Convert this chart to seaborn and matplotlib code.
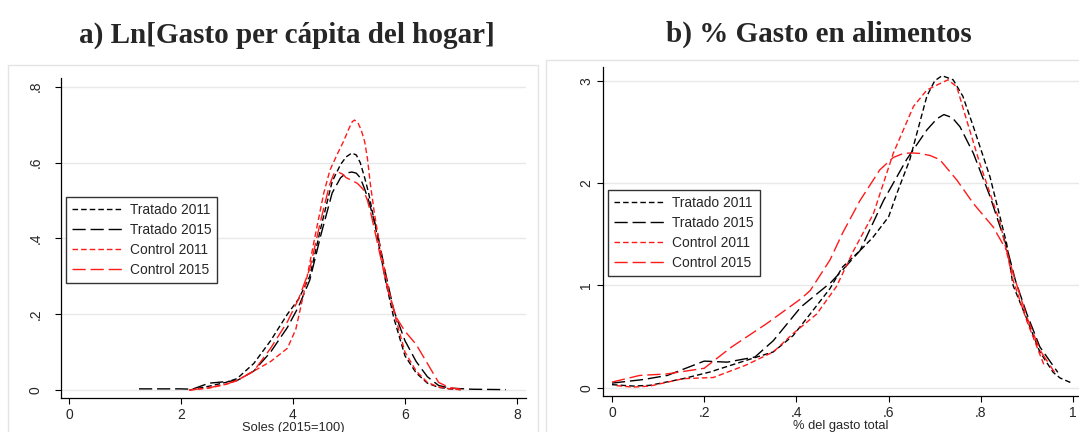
import matplotlib
matplotlib.use("Agg")
import matplotlib.pyplot as plt
from matplotlib.patches import Rectangle
import seaborn as sns
import pandas as pd

# ---------------- data ----------------
labels = ["Tratado 2011", "Tratado 2015", "Control 2011", "Control 2015"]

# Panel a) Ln[Gasto per capita del hogar]
a_t11_x = [2.15, 2.5, 2.8, 3.0, 3.3, 3.6, 3.9, 4.1, 4.3, 4.5, 4.7, 4.85, 4.95, 5.05, 5.13, 5.2, 5.28, 5.35, 5.5, 5.65, 5.8, 6.0, 6.2, 6.4, 6.6, 6.8, 7.0]
a_t11_y = [0.0, 0.01, 0.02, 0.03, 0.07, 0.13, 0.20, 0.24, 0.30, 0.43, 0.55, 0.595, 0.615, 0.625, 0.62, 0.60, 0.56, 0.52, 0.41, 0.29, 0.19, 0.09, 0.045, 0.018, 0.007, 0.003, 0.001]

a_t15_x = [1.25, 2.0, 2.2, 2.5, 2.8, 3.0, 3.3, 3.6, 3.9, 4.1, 4.3, 4.5, 4.7, 4.85, 4.95, 5.05, 5.13, 5.2, 5.28, 5.35, 5.5, 5.65, 5.8, 6.0, 6.2, 6.4, 6.6, 6.8, 7.2, 7.8]
a_t15_y = [0.003, 0.003, 0.002, 0.018, 0.022, 0.025, 0.05, 0.10, 0.165, 0.22, 0.29, 0.41, 0.52, 0.56, 0.572, 0.575, 0.572, 0.56, 0.53, 0.50, 0.42, 0.31, 0.21, 0.13, 0.075, 0.035, 0.012, 0.005, 0.002, 0.001]

a_c11_x = [2.15, 2.5, 2.8, 3.0, 3.3, 3.6, 3.9, 4.05, 4.2, 4.4, 4.55, 4.66, 4.8, 4.9, 5.0, 5.06, 5.1, 5.16, 5.22, 5.28, 5.33, 5.38, 5.45, 5.55, 5.7, 5.85, 6.0, 6.2, 6.4, 6.6, 6.8, 7.0]
a_c11_y = [0.0, 0.005, 0.015, 0.025, 0.05, 0.075, 0.11, 0.16, 0.26, 0.41, 0.52, 0.58, 0.625, 0.655, 0.69, 0.708, 0.712, 0.705, 0.685, 0.655, 0.61, 0.545, 0.47, 0.38, 0.27, 0.18, 0.10, 0.05, 0.02, 0.008, 0.003, 0.001]

a_c15_x = [2.15, 2.5, 2.8, 3.0, 3.3, 3.6, 3.9, 4.1, 4.3, 4.5, 4.65, 4.73, 4.8, 4.88, 4.95, 5.05, 5.15, 5.25, 5.33, 5.4, 5.55, 5.7, 5.85, 6.0, 6.2, 6.4, 6.6, 6.8, 7.0]
a_c15_y = [0.0, 0.006, 0.015, 0.025, 0.05, 0.11, 0.18, 0.24, 0.32, 0.45, 0.54, 0.57, 0.575, 0.57, 0.56, 0.553, 0.545, 0.53, 0.50, 0.46, 0.36, 0.26, 0.19, 0.155, 0.12, 0.07, 0.02, 0.006, 0.002]

# Panel b) % Gasto en alimentos
b_t11_x = [0.0, 0.046, 0.082, 0.154, 0.212, 0.3, 0.35, 0.393, 0.436, 0.473, 0.5, 0.538, 0.566, 0.6, 0.618, 0.646, 0.683, 0.7, 0.716, 0.74, 0.761, 0.784, 0.82, 0.856, 0.87, 0.9, 0.928, 0.957, 0.972, 1.0]
b_t11_y = [0.03, 0.016, 0.023, 0.088, 0.153, 0.28, 0.35, 0.51, 0.756, 0.97, 1.18, 1.34, 1.47, 1.67, 1.9, 2.23, 2.85, 3.0, 3.05, 3.01, 2.85, 2.55, 2.06, 1.41, 1.0, 0.67, 0.35, 0.15, 0.095, 0.04]

b_t15_x = [0.0, 0.068, 0.12, 0.2, 0.25, 0.31, 0.35, 0.41, 0.475, 0.5, 0.538, 0.589, 0.639, 0.683, 0.705, 0.72, 0.738, 0.755, 0.784, 0.82, 0.856, 0.875, 0.9, 0.928, 0.967]
b_t15_y = [0.045, 0.08, 0.12, 0.26, 0.25, 0.3, 0.46, 0.79, 1.03, 1.15, 1.34, 1.83, 2.23, 2.52, 2.63, 2.67, 2.64, 2.55, 2.29, 1.87, 1.38, 1.05, 0.72, 0.4, 0.15]

b_c11_x = [0.01, 0.046, 0.082, 0.154, 0.22, 0.29, 0.35, 0.393, 0.444, 0.487, 0.524, 0.567, 0.61, 0.654, 0.683, 0.71, 0.729, 0.748, 0.769, 0.798, 0.842, 0.87, 0.9, 0.939]
b_c11_y = [0.02, 0.006, 0.016, 0.088, 0.1, 0.22, 0.35, 0.53, 0.72, 0.99, 1.34, 1.7, 2.29, 2.75, 2.91, 2.97, 3.01, 2.94, 2.62, 2.19, 1.61, 1.05, 0.65, 0.2]

b_c15_x = [0.0, 0.06, 0.12, 0.2, 0.26, 0.335, 0.41, 0.43, 0.473, 0.5, 0.538, 0.581, 0.61, 0.632, 0.65, 0.668, 0.69, 0.711, 0.748, 0.784, 0.827, 0.856, 0.87, 0.9, 0.928, 0.96]
b_c15_y = [0.055, 0.12, 0.135, 0.19, 0.4, 0.625, 0.87, 0.95, 1.25, 1.51, 1.83, 2.13, 2.25, 2.29, 2.295, 2.29, 2.27, 2.23, 2.03, 1.80, 1.57, 1.34, 1.12, 0.69, 0.37, 0.15]

a_xticks = [0, 2, 4, 6, 8]
a_xticklabels = ["0", "2", "4", "6", "8"]
a_yticks = [0, 0.2, 0.4, 0.6, 0.8]
a_yticklabels = ["0", ".2", ".4", ".6", ".8"]
b_xticks = [0, 0.2, 0.4, 0.6, 0.8, 1.0]
b_xticklabels = ["0", ".2", ".4", ".6", ".8", "1"]
b_yticks = [0, 1, 2, 3]
b_yticklabels = ["0", "1", "2", "3"]

# ---------------- style ----------------
sns.set_style("white")
plt.rcParams['font.family'] = ['Liberation Sans', 'DejaVu Sans']

W, H = 1079, 432
fig = plt.figure(figsize=(W / 100, H / 100), dpi=100)
fig.patch.set_facecolor("white")

# panel frames (Stata graph regions), drawn behind the axes
fig.patches.append(Rectangle((8 / W, -0.01), 530 / W, (H - 65) / H + 0.01, transform=fig.transFigure,
                             facecolor="none", edgecolor="#e4e4e4", lw=1.0, zorder=-10))
fig.patches.append(Rectangle((546 / W, -0.01), 540 / W, (H - 60) / H + 0.01, transform=fig.transFigure,
                             facecolor="none", edgecolor="#e4e4e4", lw=1.0, zorder=-10))

def px_axes(x0, x1, ytop, ybot):
    return fig.add_axes([x0 / W, (H - ybot) / H, (x1 - x0) / W, (ybot - ytop) / H])

axA = px_axes(61, 526, 78, 398)
axB = px_axes(603, 1079, 66.7, 396)

short = (0, (4.0, 2.2))
long_ = (0, (9.5, 3.5))
styles = [("black", short), ("black", long_), ("#ff1a1a", short), ("#ff1a1a", long_)]

seriesA = [(a_t11_x, a_t11_y), (a_t15_x, a_t15_y), (a_c11_x, a_c11_y), (a_c15_x, a_c15_y)]
seriesB = [(b_t11_x, b_t11_y), (b_t15_x, b_t15_y), (b_c11_x, b_c11_y), (b_c15_x, b_c15_y)]

def draw(ax, series, xlim, ylim, xticks, xtl, yticks, ytl, xlabel, ypad, legend_anchor):
    ax.set_facecolor("none")
    for yt in yticks:
        ax.axhline(yt, color="#e8e8e8", lw=1.0, zorder=0)
    for (xs, ys), lab, (col, ls) in zip(series, labels, styles):
        df = pd.DataFrame({"x": xs, "y": ys})
        sns.lineplot(data=df, x="x", y="y", ax=ax, color=col, linestyle=ls, lw=1.0,
                     estimator=None, sort=False, label=lab)
    ax.set_xlim(*xlim)
    ax.set_ylim(*ylim)
    ax.set_xticks(xticks)
    ax.set_xticklabels(xtl)
    ax.set_yticks(yticks)
    ax.set_yticklabels(ytl, rotation=90, va="center")
    for s in ["top", "right"]:
        ax.spines[s].set_visible(False)
    for s in ["left", "bottom"]:
        ax.spines[s].set_color("black")
        ax.spines[s].set_linewidth(0.9)
    ax.tick_params(axis="x", length=4, width=0.8, color="black", labelsize=10, pad=3, direction="out", bottom=True)
    ax.tick_params(axis="y", length=4, width=0.8, color="black", labelsize=10, pad=ypad, direction="out", left=True)
    ax.set_xlabel(xlabel, fontsize=9.3, labelpad=0)
    ax.set_ylabel("")
    ax.grid(False)
    leg = ax.legend(loc="upper left", bbox_to_anchor=legend_anchor, borderaxespad=0,
                    fontsize=9.9, frameon=True, fancybox=False, framealpha=1,
                    edgecolor="#333333", handlelength=3.7, handletextpad=0.5,
                    labelspacing=0.42, borderpad=0.45)
    leg.get_frame().set_linewidth(1.0)

draw(axA, seriesA, (-0.143, 8.161), (-0.0211, 0.823), a_xticks, a_xticklabels,
     a_yticks, a_yticklabels, "Soles (2015=100)", 9, (0.0101, 0.628))
draw(axB, seriesB, (-0.0195, 1.013), (-0.081, 3.138), b_xticks, b_xticklabels,
     b_yticks, b_yticklabels, "% del gasto total", 3, (0.0105, 0.6256))

fig.text(287 / W, 1 - 43 / H, "a) Ln[Gasto per cápita del hogar]", ha="center", va="baseline",
         fontsize=21, fontweight="bold", family=["Liberation Serif", "DejaVu Serif"])
fig.text(819 / W, 1 - 42 / H, "b) % Gasto en alimentos", ha="center", va="baseline",
         fontsize=21, fontweight="bold", family=["Liberation Serif", "DejaVu Serif"])

fig.savefig("out.png", dpi=100, facecolor="white")
